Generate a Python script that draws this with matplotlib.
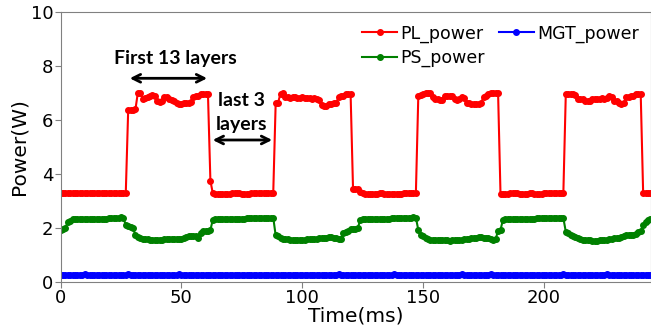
import matplotlib
matplotlib.use("Agg")
import matplotlib.pyplot as plt
import numpy as np

# PL power (W), sampled every 1 ms, t = 0..244
pl_power = [
    3.28, 3.28, 3.28, 3.28, 3.28, 3.28, 3.28, 3.28, 3.28, 3.28, 3.28, 3.29, 3.28, 3.28,
    3.28, 3.28, 3.28, 3.28, 3.28, 3.28, 3.28, 3.28, 3.28, 3.28, 3.28, 3.29, 3.29, 3.29,
    6.38, 6.38, 6.38, 6.40, 7.02, 7.00, 6.80, 6.82, 6.85, 6.90, 6.92, 6.90, 6.70, 6.68,
    6.72, 6.85, 6.85, 6.80, 6.75, 6.72, 6.62, 6.60, 6.60, 6.62, 6.62, 6.65, 6.68, 6.85,
    6.88, 6.90, 6.95, 6.95, 6.95, 6.95,
    3.75,
    3.28, 3.27, 3.27, 3.27, 3.27, 3.27, 3.27, 3.27, 3.28, 3.28, 3.28, 3.28, 3.27, 3.27,
    3.27, 3.27, 3.28, 3.28, 3.28, 3.28, 3.28, 3.29, 3.29, 3.30, 3.30, 3.30,
    6.62, 6.65, 6.98, 7.02, 6.85, 6.85, 6.83, 6.85, 6.85, 6.83, 6.83, 6.85, 6.83, 6.83,
    6.82, 6.80, 6.82, 6.78, 6.75, 6.55, 6.52, 6.52, 6.58, 6.60, 6.62, 6.62, 6.85, 6.88,
    6.90, 6.95, 6.97, 6.95,
    3.45, 3.45, 3.43,
    3.32, 3.30, 3.27, 3.27, 3.27, 3.27, 3.27, 3.27, 3.28, 3.28, 3.27, 3.25, 3.25, 3.25,
    3.26, 3.27, 3.27, 3.27, 3.28, 3.28, 3.28, 3.29, 3.30, 3.30,
    6.90, 6.92, 6.95, 7.00, 7.02, 7.00, 6.85, 6.80, 6.78, 6.75, 6.75, 6.88, 6.90, 6.90,
    6.88, 6.78, 6.75, 6.80, 6.85, 6.82, 6.65, 6.62, 6.60, 6.60, 6.60, 6.60, 6.65, 6.85,
    6.90, 6.98, 7.00, 7.00, 7.00, 7.00,
    3.25, 3.26, 3.27, 3.27, 3.28, 3.28, 3.28, 3.28, 3.27, 3.27, 3.27, 3.27, 3.28, 3.28,
    3.27, 3.27, 3.27, 3.27, 3.28, 3.28, 3.28, 3.28, 3.29, 3.29, 3.29, 3.30, 3.30,
    6.95, 6.95, 6.95, 6.95, 6.93, 6.80, 6.80, 6.78, 6.72, 6.70, 6.72, 6.80, 6.80, 6.80,
    6.80, 6.82, 6.80, 6.82, 6.88, 6.85, 6.72, 6.70, 6.65, 6.60, 6.62, 6.85, 6.85, 6.88,
    6.88, 6.95, 6.97, 6.95,
    3.30, 3.30, 3.30, 3.30,
]

# PS power (W)
ps_power = [
    1.93, 1.95, 1.98, 2.22, 2.27,
    2.33, 2.33, 2.33, 2.34, 2.34, 2.34, 2.34, 2.34, 2.34, 2.34, 2.34, 2.34, 2.34, 2.34,
    2.34, 2.35, 2.35, 2.35, 2.36, 2.37, 2.40,
    2.35, 2.12, 2.08, 2.02, 2.00, 1.72,
    1.65, 1.62, 1.60, 1.58, 1.57, 1.56, 1.56, 1.55, 1.55, 1.56, 1.56,
    1.58, 1.60, 1.60, 1.60, 1.58, 1.58, 1.57, 1.58, 1.62, 1.65,
    1.68, 1.70, 1.70, 1.68, 1.62,
    1.80, 1.88, 1.90, 1.90, 1.92,
    2.30, 2.32, 2.33, 2.33, 2.34, 2.34, 2.34, 2.34, 2.33, 2.33, 2.34, 2.34, 2.34, 2.34,
    2.35, 2.35, 2.35, 2.35, 2.35, 2.36, 2.36, 2.36, 2.37, 2.37, 2.38, 2.38,
    1.72, 1.68, 1.62, 1.60, 1.58, 1.57, 1.56, 1.56, 1.56, 1.55, 1.55, 1.56, 1.56, 1.57,
    1.58, 1.58, 1.58, 1.60, 1.62, 1.62, 1.62, 1.62,
    1.65, 1.66, 1.64, 1.62, 1.60, 1.60, 1.82, 1.85,
    1.88, 1.95, 1.97, 1.97, 2.00,
    2.30, 2.33, 2.33, 2.33, 2.34, 2.34, 2.34, 2.34, 2.34, 2.34, 2.34, 2.34, 2.34, 2.35,
    2.35, 2.35, 2.35, 2.35, 2.36, 2.36, 2.37, 2.38, 2.39, 2.38,
    1.92, 1.72, 1.68, 1.62,
    1.58, 1.56, 1.55, 1.55, 1.55, 1.55, 1.54, 1.54, 1.53, 1.52, 1.54, 1.55, 1.55, 1.55,
    1.56, 1.58, 1.58,
    1.60, 1.62, 1.62, 1.64, 1.66, 1.66, 1.64, 1.62, 1.62, 1.58, 1.56, 1.58,
    1.90, 1.92,
    2.30, 2.33, 2.33, 2.34, 2.34, 2.34, 2.34, 2.34, 2.34, 2.34, 2.34, 2.34, 2.34, 2.34,
    2.35, 2.35, 2.35, 2.35, 2.36, 2.36, 2.36, 2.37, 2.38, 2.38, 2.37, 2.36,
    1.86, 1.80, 1.75, 1.70, 1.66, 1.62,
    1.58, 1.56, 1.55, 1.54, 1.53, 1.52, 1.52, 1.52, 1.53, 1.54, 1.55, 1.56, 1.57,
    1.60, 1.62, 1.63, 1.64, 1.66, 1.70,
    1.75, 1.74, 1.72, 1.72, 1.76,
    1.86, 1.88, 2.10, 2.22, 2.30, 2.33,
]

# MGT power (W)
mgt_power = [
    0.25, 0.25, 0.25, 0.25, 0.25, 0.25, 0.25, 0.25, 0.25, 0.26, 0.27, 0.26, 0.25, 0.25, 0.25, 0.25, 0.25, 0.25, 0.25, 0.25,
    0.25, 0.25, 0.25, 0.25, 0.25, 0.25, 0.25, 0.25, 0.27, 0.25, 0.25, 0.25, 0.25, 0.25, 0.25, 0.25, 0.25, 0.25, 0.25, 0.25,
    0.25, 0.25, 0.25, 0.25, 0.25, 0.25, 0.25, 0.25, 0.25, 0.27, 0.25, 0.25, 0.25, 0.25, 0.25, 0.25, 0.25, 0.25, 0.25, 0.25,
    0.25, 0.25, 0.25, 0.25, 0.25, 0.25, 0.25, 0.25, 0.25, 0.25, 0.25, 0.25, 0.25, 0.25, 0.25, 0.25, 0.25, 0.25, 0.25, 0.25,
    0.25, 0.25, 0.25, 0.25, 0.25, 0.25, 0.25, 0.25, 0.25, 0.25, 0.25, 0.25, 0.25, 0.25, 0.25, 0.25, 0.25, 0.25, 0.25, 0.25,
    0.25, 0.25, 0.25, 0.25, 0.25, 0.25, 0.25, 0.25, 0.25, 0.25, 0.25, 0.25, 0.25, 0.25, 0.25, 0.27, 0.25, 0.25, 0.25, 0.25,
    0.25, 0.25, 0.25, 0.25, 0.25, 0.25, 0.25, 0.25, 0.25, 0.25, 0.25, 0.25, 0.25, 0.25, 0.25, 0.25, 0.25, 0.25, 0.27, 0.25,
    0.25, 0.25, 0.25, 0.25, 0.25, 0.25, 0.25, 0.25, 0.25, 0.25, 0.25, 0.25, 0.25, 0.25, 0.25, 0.25, 0.25, 0.25, 0.25, 0.25,
    0.25, 0.25, 0.25, 0.25, 0.25, 0.25, 0.27, 0.25, 0.25, 0.25, 0.25, 0.25, 0.25, 0.25, 0.25, 0.25, 0.25, 0.25, 0.27, 0.25,
    0.25, 0.25, 0.25, 0.25, 0.25, 0.25, 0.25, 0.25, 0.25, 0.25, 0.25, 0.25, 0.25, 0.25, 0.25, 0.25, 0.25, 0.25, 0.25, 0.25,
    0.25, 0.25, 0.25, 0.25, 0.25, 0.25, 0.25, 0.25, 0.27, 0.25, 0.25, 0.25, 0.25, 0.25, 0.25, 0.25, 0.25, 0.25, 0.25, 0.25,
    0.25, 0.25, 0.25, 0.25, 0.25, 0.25, 0.27, 0.25, 0.25, 0.25, 0.25, 0.25, 0.25, 0.25, 0.25, 0.25, 0.25, 0.25, 0.25, 0.25,
    0.25, 0.25, 0.25, 0.25, 0.25,
]

time_ms = np.arange(len(pl_power))  # 1 ms sampling

x_ticks = [0, 50, 100, 150, 200]
y_ticks = [0, 2, 4, 6, 8, 10]

fig = plt.figure(figsize=(6.51, 3.33), dpi=100)
ax = fig.add_axes([60.5 / 651, 1 - 281.7 / 333, 1 - 60.5 / 651, (281.7 - 12.3) / 333])

ax.plot(time_ms, pl_power, color="red", marker="o", markersize=4, linewidth=1.5, label="PL_power")
ax.plot(time_ms, ps_power, color="green", marker="o", markersize=4, linewidth=1.5, label="PS_power")
ax.plot(time_ms, mgt_power, color="blue", marker="o", markersize=4, linewidth=1.5, label="MGT_power")

ax.set_xlim(0, 244.25)
ax.set_ylim(0, 10)
ax.set_xticks(x_ticks)
ax.set_yticks(y_ticks)
ax.tick_params(axis="both", labelsize=13, color="#808080", length=4, pad=1)
for s in ax.spines.values():
    s.set_color("#808080")
ax.set_xlabel("Time(ms)", fontsize=14.5, labelpad=0)
ax.set_ylabel("Power(W)", fontsize=14.5, labelpad=2)

leg = ax.legend(loc="upper right", ncol=2, frameon=False, fontsize=12.5,
                handlelength=2.0, handletextpad=0.2, columnspacing=0.8,
                labelspacing=0.35, borderaxespad=0.3)

ann_font = dict(family=["Lato", "DejaVu Sans"], fontweight="bold", fontsize=14)
ax.annotate("", xy=(27.5, 7.55), xytext=(61.8, 7.55),
            arrowprops=dict(arrowstyle="<->", color="black", lw=2, mutation_scale=14))
ax.text(47.4, 8.3, "First 13 layers", ha="center", va="center", **ann_font)
ax.annotate("", xy=(61.8, 5.26), xytext=(88.7, 5.26),
            arrowprops=dict(arrowstyle="<->", color="black", lw=2, mutation_scale=14))
ax.text(74.7, 6.74, "last 3", ha="center", va="center", **ann_font)
ax.text(74.7, 5.85, "layers", ha="center", va="center", **ann_font)

fig.savefig("out.png", dpi=100)
